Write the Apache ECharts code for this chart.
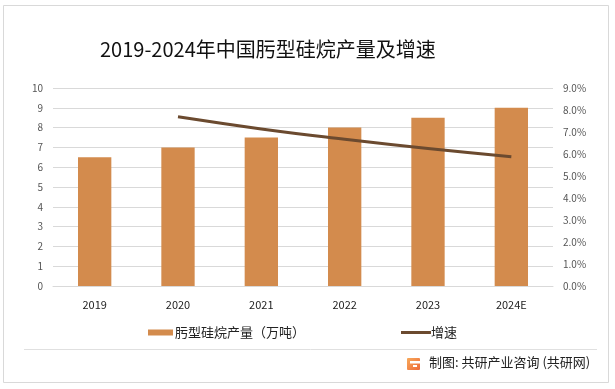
<!DOCTYPE html>
<html>
<head>
<meta charset="utf-8">
<script src="https://cdn.jsdelivr.net/npm/echarts@6/dist/echarts.min.js"></script>
<style>
html,body{margin:0;padding:0;background:#fff;}
#c{width:615px;height:389px;}
</style>
</head>
<body>
<div id="c"></div>
<script>
var categories = ['2019', '2020', '2021', '2022', '2023', '2024E'];
var production = [6.5, 7, 7.5, 8, 8.5, 9];
var growth = [null, 0.0769, 0.0714, 0.0667, 0.0625, 0.0588];
var leftTicks = [0, 10, 1];
var rightTicks = [0, 0.09, 0.01];

var FONT = '"Microsoft YaHei","Noto Sans CJK SC","Noto Sans",sans-serif';
var chart = echarts.init(document.getElementById('c'), null, {renderer: 'canvas'});
chart.setOption({
  backgroundColor: '#ffffff',
  animation: false,
  textStyle: {fontFamily: FONT},
  title: {
    text: '2019-2024年中国肟型硅烷产量及增速',
    left: 95, top: 34,
    textStyle: {fontSize: 20, fontWeight: 'normal', color: '#111', fontFamily: FONT}
  },
  grid: {left: 53, right: 62, top: 88, bottom: 103, containLabel: false},
  legend: [
    {
      data: ['肟型硅烷产量（万吨）'], left: 143, top: 321,
      icon: 'rect', itemWidth: 25, itemHeight: 6, itemGap: 0,
      textStyle: {fontSize: 13, color: '#222', fontFamily: FONT, padding: [0,0,0,-3]}
    },
    {
      data: ['增速'], left: 396, top: 321,
      icon: 'rect', itemWidth: 30, itemHeight: 3, itemGap: 0,
      textStyle: {fontSize: 13, color: '#222', fontFamily: FONT, padding: [0,0,0,-5]}
    }
  ],
  xAxis: {
    type: 'category', data: categories,
    axisLine: {show: true, lineStyle: {color: '#d9d9d9'}},
    axisTick: {show: false},
    axisLabel: {fontSize: 11, color: '#222', margin: 13, fontFamily: FONT}
  },
  yAxis: [
    {
      type: 'value', min: leftTicks[0], max: leftTicks[1], interval: leftTicks[2],
      axisLine: {show: false}, axisTick: {show: false},
      splitLine: {lineStyle: {color: '#d9d9d9', width: 1}},
      axisLabel: {fontSize: 10, color: '#555', margin: 10, fontFamily: FONT}
    },
    {
      type: 'value', min: rightTicks[0], max: rightTicks[1], interval: rightTicks[2],
      axisLine: {show: false}, axisTick: {show: false},
      splitLine: {show: false},
      axisLabel: {fontSize: 10, color: '#555', margin: 10, fontFamily: FONT,
        formatter: function (v) { return (v * 100).toFixed(1) + '%'; }}
    }
  ],
  series: [
    {
      name: '肟型硅烷产量（万吨）', type: 'bar', data: production,
      barWidth: '40%', itemStyle: {color: '#D38B4D'}
    },
    {
      name: '增速', type: 'line', yAxisIndex: 1, data: growth,
      smooth: true, showSymbol: false, symbol: 'none',
      lineStyle: {color: '#6B4A2F', width: 3},
      itemStyle: {color: '#6B4A2F'}
    }
  ],
  graphic: [
    {type: 'rect', shape: {x: 3.5, y: 5.5, width: 605, height: 377},
     style: {fill: 'none', stroke: '#d9d9d9', lineWidth: 1}, silent: true},
    {type: 'line', shape: {x1: 24, y1: 349.5, x2: 597, y2: 349.5},
     style: {stroke: '#e0e0e0', lineWidth: 1}, silent: true},
    {type: 'rect', shape: {x: 407, y: 358, width: 13, height: 12, r: 1},
     style: {fill: new echarts.graphic.LinearGradient(0, 0, 1, 1, [
       {offset: 0, color: '#F7A95A'}, {offset: 1, color: '#EE6A3A'}])}, silent: true},
    {type: 'rect', shape: {x: 410, y: 361, width: 10, height: 2.5},
     style: {fill: '#fff'}, silent: true},
    {type: 'rect', shape: {x: 413, y: 365, width: 4, height: 2},
     style: {fill: '#fff'}, silent: true},
    {type: 'text', left: 429, top: 356,
     style: {text: '制图: 共研产业咨询 (共研网)', fontSize: 13, fill: '#222', fontFamily: FONT}, silent: true}
  ]
});
</script>
</body>
</html>
